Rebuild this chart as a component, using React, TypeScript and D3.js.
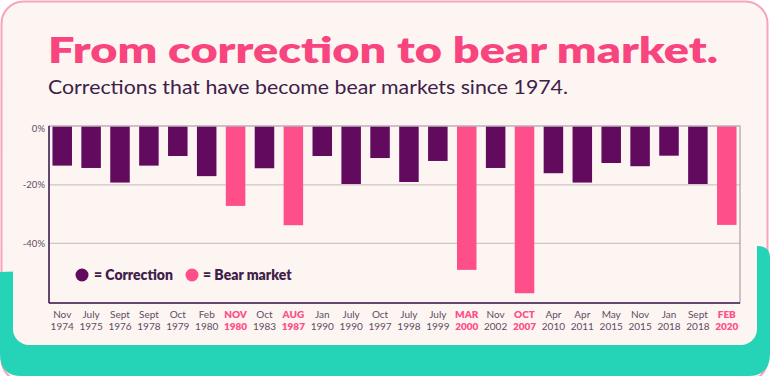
import React from "react";
import * as d3 from "d3";

const months = ["Nov","July","Sept","Sept","Oct","Feb","NOV","Oct","AUG","Jan","July","Oct","July","July","MAR","Nov","OCT","Apr","Apr","May","Nov","Jan","Sept","FEB"];
const years = ["1974","1975","1976","1978","1979","1980","1980","1983","1987","1990","1990","1997","1998","1999","2000","2002","2007","2010","2011","2015","2015","2018","2018","2020"];
const declines = [-13.4,-14.2,-19.2,-13.4,-10.1,-17.0,-27.2,-14.3,-33.8,-10.1,-19.7,-10.8,-19.0,-11.8,-49.1,-14.2,-57.1,-16.0,-19.2,-12.5,-13.6,-10.0,-19.7,-33.7];
const isBear = [false,false,false,false,false,false,true,false,true,false,false,false,false,false,true,false,true,false,false,false,false,false,false,true];
const yTicks = [0, -20, -40];

const W = 770, H = 376;
const PURPLE = "#610a5e";
const PINK = "#ff4f8a";
const TEXT_DARK = "#3d2149";
const LABEL = "#5e4c66";
const CREAM = "#fdf5f1";
const TEAL = "#25d4b7";

export default function App() {
  const plot = { left: 49, right: 740, top: 126, bottom: 303 };
  const ids = months.map((_, i) => String(i));
  const x = d3.scaleBand<string>().domain(ids).range([plot.left, plot.right]).paddingInner(0.325).paddingOuter(0.12);
  const y = d3.scaleLinear().domain([0, -40]).range([126.5, 243.3]);

  const tealPath = `M0,272 L756,246 Q770,245.5 770,258 L770,354 Q770,376 748,376 L22,376 Q0,376 0,354 Z`;

  return (
    <svg width={W} height={H} style={{ position: "absolute", left: 0, top: 0 }} fontFamily="Lato, 'Open Sans', sans-serif">
      <rect x={1.5} y={1.5} width={766} height={380} rx={22} fill={CREAM} stroke="#f7a3bd" strokeWidth={2} />
      <path d={tealPath} fill={TEAL} />
      <rect x={13} y={200} width={744} height={145} rx={16} fill={CREAM} />

      <text x={48} y={63} fontSize={36} fontWeight={800} fill="#f8457f" textLength={670} lengthAdjust="spacingAndGlyphs">From correction to bear market.</text>
      <text x={48} y={94} fontSize={19.5} fontWeight={400} fill={TEXT_DARK} textLength={520} lengthAdjust="spacingAndGlyphs">Corrections that have become bear markets since 1974.</text>

      {yTicks.filter(t => t !== 0).map(t => (
        <line key={"g" + t} x1={plot.left} x2={plot.right} y1={y(t)} y2={y(t)} stroke="#c8b9b9" strokeWidth={1} />
      ))}
      {yTicks.map(t => (
        <text key={"t" + t} x={45} y={t === 0 ? 129 : y(t)} dy="0.35em" textAnchor="end" fontSize={9.5} fill={LABEL}>{t}%</text>
      ))}

      {declines.map((v, i) => (
        <rect key={i} x={x(ids[i])} y={y(0)} width={x.bandwidth()} height={y(v) - y(0)} fill={isBear[i] ? PINK : PURPLE} />
      ))}

      <rect x={plot.left} y={plot.top} width={plot.right - plot.left} height={plot.bottom - plot.top} fill="none" stroke="#9d8c9f" strokeWidth={1} />
      <line x1={plot.left} x2={plot.left} y1={plot.top} y2={plot.bottom} stroke="#3e2150" strokeWidth={1.5} />
      <line x1={plot.left} x2={plot.right} y1={plot.bottom} y2={plot.bottom} stroke="#3e2150" strokeWidth={1.5} />

      {months.map((m, i) => {
        const cx = (x(ids[i]) as number) + x.bandwidth() / 2;
        const bear = isBear[i];
        return (
          <g key={"l" + i} fill={bear ? PINK : LABEL} fontWeight={bear ? 800 : 400} fontSize={10}>
            <text x={cx} y={314} dy="0.35em" textAnchor="middle">{m}</text>
            <text x={cx} y={326} dy="0.35em" textAnchor="middle">{years[i]}</text>
          </g>
        );
      })}

      <circle cx={82} cy={275} r={6.5} fill={PURPLE} />
      <text x={94} y={275} dy="0.35em" fontSize={14} fontWeight={800} fill={TEXT_DARK}>= Correction</text>
      <circle cx={192} cy={275} r={6.5} fill={PINK} />
      <text x={203} y={275} dy="0.35em" fontSize={14} fontWeight={800} fill={TEXT_DARK}>= Bear market</text>
    </svg>
  );
}
